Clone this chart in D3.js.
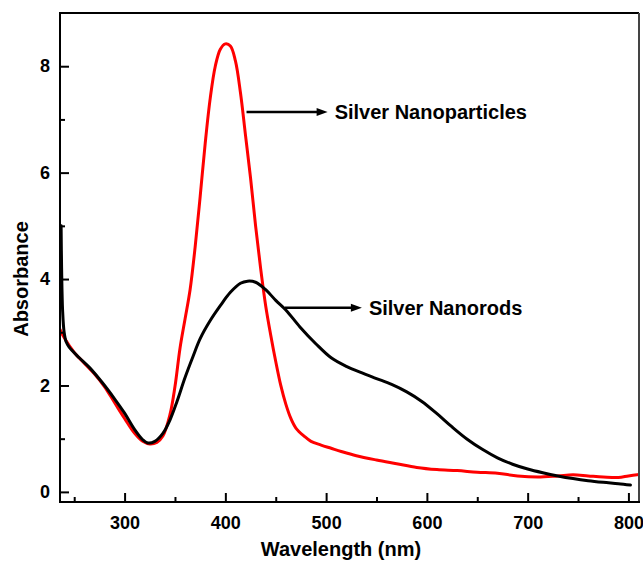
<!DOCTYPE html>
<html>
<head>
<meta charset="utf-8">
<script src="https://cdn.jsdelivr.net/npm/d3@7"></script>
<style>
  html, body { margin: 0; padding: 0; background: #fff; }
  svg { display: block; }
  text { font-family: "Liberation Sans", Arial, sans-serif; font-weight: bold; fill: #000; }
</style>
</head>
<body>
<svg id="chart" width="643" height="562"></svg>
<script>
// ---- Data ----
const nanoparticlesWavelength = [236, 240, 250, 260, 270, 280, 290, 300, 310, 318, 325, 332, 338, 345, 350, 355, 360, 365, 370, 375, 380, 385, 390, 395, 400, 405, 410, 415, 420, 425, 430, 435, 440, 445, 450, 455, 460, 465, 470, 478, 485, 495, 505, 515, 530, 550, 570, 590, 610, 630, 650, 670, 690, 710, 730, 745, 760, 775, 790, 800, 811];
const nanoparticlesAbsorbance = [3.05, 2.9, 2.62, 2.42, 2.22, 1.98, 1.68, 1.38, 1.1, 0.95, 0.9, 0.93, 1.05, 1.45, 1.98, 2.7, 3.25, 3.8, 4.6, 5.55, 6.55, 7.4, 8.0, 8.32, 8.42, 8.38, 8.1, 7.5, 6.7, 5.9, 5.0, 4.2, 3.5, 2.95, 2.45, 2.0, 1.65, 1.38, 1.2, 1.05, 0.95, 0.88, 0.82, 0.76, 0.68, 0.6, 0.53, 0.46, 0.42, 0.4, 0.37, 0.35, 0.3, 0.28, 0.3, 0.32, 0.3, 0.28, 0.27, 0.3, 0.33];

const nanorodsWavelength = [237, 237.5, 238.5, 240, 242, 245, 255, 265, 278, 290, 300, 310, 318, 323, 330, 338, 345, 352, 360, 368, 375, 385, 395, 405, 415, 422, 430, 440, 450, 460, 474, 490, 505, 520, 535, 550, 565, 580, 595, 610, 625, 640, 655, 670, 685, 700, 715, 730, 745, 760, 775, 790, 802];
const nanorodsAbsorbance = [5.0, 4.2, 3.4, 3.0, 2.82, 2.72, 2.52, 2.34, 2.05, 1.75, 1.48, 1.17, 0.98, 0.92, 0.95, 1.1, 1.35, 1.7, 2.15, 2.55, 2.88, 3.22, 3.5, 3.75, 3.92, 3.96, 3.94, 3.8, 3.6, 3.42, 3.1, 2.78, 2.52, 2.36, 2.24, 2.13, 2.02, 1.88, 1.7, 1.47, 1.22, 0.99, 0.8, 0.64, 0.52, 0.43, 0.36, 0.3, 0.25, 0.21, 0.18, 0.155, 0.13];

const xMajorTicks = [300, 400, 500, 600, 700, 800];
const xMinorTicks = [250, 350, 450, 550, 650, 750];
const yMajorTicks = [0, 2, 4, 6, 8];
const yMinorTicks = [1, 3, 5, 7];

const seriesNames = ["Silver Nanoparticles", "Silver Nanorods"];
const seriesColors = ["#ff0000", "#000000"];
// annotation arrows: start wavelength, absorbance level, end wavelength
const arrowStartW = [421, 459];
const arrowAbs = [7.14, 3.46];
const arrowEndW = [501.5, 535.5];

const xTitle = "Wavelength (nm)";
const yTitle = "Absorbance";

// ---- Layout ----
const svg = d3.select("#chart");
const mLeft = 60, mRight = 639, mTop = 13, mBottom = 502;

const x = d3.scaleLinear().domain([235.9, 810.5]).range([mLeft, mRight]);
const y = d3.scaleLinear().domain([-0.19, 9.0]).range([mBottom, mTop]);

const series = [
  { name: seriesNames[0], color: seriesColors[0], pts: nanoparticlesWavelength.map((w, i) => [w, nanoparticlesAbsorbance[i]]) },
  { name: seriesNames[1], color: seriesColors[1], pts: nanorodsWavelength.map((w, i) => [w, nanorodsAbsorbance[i]]) }
];

const line = d3.line().x(d => x(d[0])).y(d => y(d[1])).curve(d3.curveCatmullRom.alpha(0.5));

svg.append("defs").append("clipPath").attr("id", "clip")
  .append("rect").attr("x", mLeft).attr("y", mTop).attr("width", mRight - mLeft).attr("height", mBottom - mTop);

const plot = svg.append("g").attr("clip-path", "url(#clip)");
series.forEach(s => {
  plot.append("path").datum(s.pts)
    .attr("fill", "none").attr("stroke", s.color).attr("stroke-width", 3)
    .attr("stroke-linejoin", "round").attr("stroke-linecap", "round")
    .attr("d", line);
});

// frame
svg.append("line").attr("x1", mLeft).attr("x2", mRight).attr("y1", mTop).attr("y2", mTop).attr("stroke", "#000").attr("stroke-width", 2);
svg.append("line").attr("x1", mRight).attr("x2", mRight).attr("y1", mTop).attr("y2", mBottom).attr("stroke", "#444").attr("stroke-width", 2);

// axes (ticks inward)
const xAxisMajor = d3.axisBottom(x).tickValues(xMajorTicks).tickSize(-9).tickPadding(14).tickFormat(d3.format("d"));
const xAxisMinor = d3.axisBottom(x).tickValues(xMinorTicks).tickSize(-5).tickFormat("");
const yAxisMajor = d3.axisLeft(y).tickValues(yMajorTicks).tickSize(-9).tickPadding(10).tickFormat(d3.format("d"));
const yAxisMinor = d3.axisLeft(y).tickValues(yMinorTicks).tickSize(-5).tickFormat("");

function styleAxis(g) {
  g.select(".domain").remove();
  g.selectAll(".tick line").attr("stroke", "#000").attr("stroke-width", 2);
  g.selectAll(".tick text").attr("font-size", 18).attr("font-family", "Liberation Sans, Arial, sans-serif").attr("font-weight", "bold").attr("fill", "#000");
}

svg.append("g").attr("transform", `translate(0,${mBottom})`).call(xAxisMajor).call(styleAxis);
svg.append("g").attr("transform", `translate(0,${mBottom})`).call(xAxisMinor).call(styleAxis);
svg.append("g").attr("transform", `translate(${mLeft},0)`).call(yAxisMajor).call(styleAxis);
svg.append("g").attr("transform", `translate(${mLeft},0)`).call(yAxisMinor).call(styleAxis);

svg.append("line").attr("x1", mLeft).attr("x2", mRight + 1).attr("y1", mBottom).attr("y2", mBottom).attr("stroke", "#000").attr("stroke-width", 2);
svg.append("line").attr("x1", mLeft).attr("x2", mLeft).attr("y1", mTop - 1).attr("y2", mBottom + 1).attr("stroke", "#000").attr("stroke-width", 2);

// axis titles
svg.append("text").attr("x", 341).attr("y", 556).attr("text-anchor", "middle").attr("font-size", 20).text(xTitle);
svg.append("text").attr("transform", "translate(28,279) rotate(-90)").attr("text-anchor", "middle").attr("font-size", 20).text(yTitle);

// annotations
series.forEach((s, i) => {
  const x0 = x(arrowStartW[i]), x1 = x(arrowEndW[i]), yy = y(arrowAbs[i]);
  svg.append("line").attr("x1", x0).attr("x2", x1 - 8).attr("y1", yy).attr("y2", yy).attr("stroke", "#000").attr("stroke-width", 2.5);
  svg.append("path").attr("d", `M${x1},${yy} L${x1 - 11},${yy - 4} L${x1 - 11},${yy + 4} Z`).attr("fill", "#000");
  svg.append("text").attr("x", x1 + 7).attr("y", yy + 7.5).attr("font-size", 20).text(s.name);
});
</script>
</body>
</html>
